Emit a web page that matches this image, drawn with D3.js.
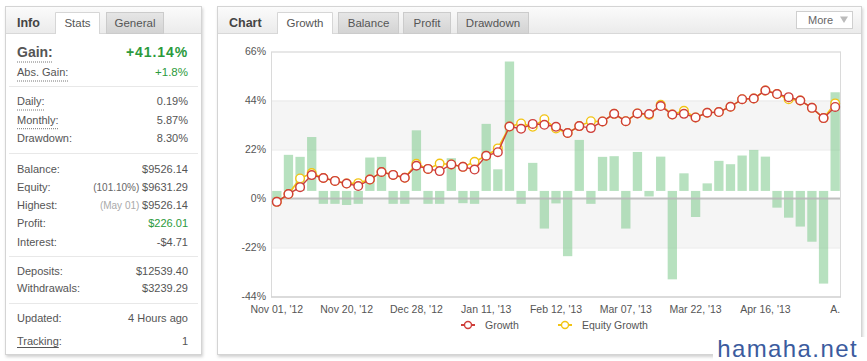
<!DOCTYPE html>
<html>
<head>
<meta charset="utf-8">
<script src="https://cdn.jsdelivr.net/npm/d3@7"></script>
<style>
  body { margin: 0; background: #fff; }
  svg { display: block; font-family: "Liberation Sans", Arial, sans-serif; }
</style>
</head>
<body>
<script>
// growth of the account per period (%), equity growth and per-period profit bars
var growth = [-1.5, 2.0, 5.1, 10.5, 9.2, 7.9, 6.7, 5.6, 8.5, 11.9, 10.6, 9.3, 14.7, 13.3, 12.3, 15.3, 14.2,
  13.0, 19.2, 20.8, 32.3, 31.3, 33.5, 33.1, 32.2, 29.4, 32.5, 31.6, 34.6, 38.0, 34.7, 38.2, 37.9,
  41.5, 37.7, 38.0, 36.4, 38.5, 38.8, 41.2, 44.6, 44.9, 48.5, 46.9, 45.5, 44.0, 40.7, 36.1, 41.1];
var equity = [-1.5, 2.0, 9.0, 11.4, 9.2, 7.9, 6.7, 6.9, 8.5, 11.9, 10.6, 9.3, 15.6, 13.3, 15.7, 15.3, 14.2,
  16.5, 19.2, 22.5, 32.3, 33.7, 32.2, 35.6, 31.4, 29.4, 32.5, 34.7, 34.6, 38.0, 34.7, 38.2, 37.5,
  42.1, 37.7, 39.4, 36.4, 38.5, 38.8, 41.2, 44.6, 44.9, 48.5, 46.9, 44.6, 44.0, 40.7, 36.1, 42.7];
var profit = [-4.5, 16.2, 15.3, 24.2, -5.8, -5.8, -6.3, -5.8, 15.0, 15.3, -5.8, -5.8, 27.2, -5.8, -5.8, 14.7, -5.5,
  -5.8, 30.1, 9.7, 58.1, -5.8, 12.6, -16.9, -5.6, -29.3, 22.9, -5.8, 15.3, 15.6, -16.9, 17.5, -2.5,
  15.4, -39.7, 7.9, -11.7, 3.4, 13.5, 12.0, 15.9, 18.4, 15.4, -7.5, -12.0, -16.0, -22.8, -41.6, 44.3];
var periods = d3.range(growth.length);
var tickLabels = ["Nov 01, '12", "Nov 20, '12", "Dec 28, '12", "Jan 11, '13", "Feb 12, '13",
  "Mar 07, '13", "Mar 22, '13", "Apr 16, '13", "A."];
var yTicks = [-44, -22, 0, 22, 44, 66];

var infoRows1 = [["Daily:", "0.19%"], ["Monthly:", "5.87%"], ["Drawdown:", "8.30%"]];
var infoRows3 = [["Deposits:", "$12539.40"], ["Withdrawals:", "$3239.29"]];

var W = 867, H = 361;
var svg = d3.select("body").append("svg").attr("width", W).attr("height", H);
var defs = svg.append("defs");

var sh = defs.append("filter").attr("id", "shadow").attr("x", "-5%").attr("y", "-5%")
  .attr("width", "115%").attr("height", "115%");
sh.append("feDropShadow").attr("dx", 1).attr("dy", 2).attr("stdDeviation", 1.5)
  .attr("flood-color", "#000").attr("flood-opacity", 0.18);

function grad(id, a, b) {
  var lg = defs.append("linearGradient").attr("id", id).attr("x1", 0).attr("y1", 0).attr("x2", 0).attr("y2", 1);
  lg.append("stop").attr("offset", "0%").attr("stop-color", a);
  lg.append("stop").attr("offset", "100%").attr("stop-color", b);
}
grad("hdr", "#fbfbfb", "#ebebeb");
grad("tab", "#e6e6e6", "#d3d3d3");

// panel with header and tabs
function panel(x, y, w, h, title, tabs) {
  var p = svg.append("g");
  p.append("rect").attr("x", x + 0.5).attr("y", y + 0.5).attr("width", w).attr("height", h)
    .attr("fill", "#fff").attr("stroke", "#d4d4d4").attr("filter", "url(#shadow)");
  p.append("rect").attr("x", x + 1).attr("y", y + 1).attr("width", w - 1).attr("height", 26)
    .attr("fill", "url(#hdr)");
  p.append("line").attr("x1", x + 1).attr("x2", x + w).attr("y1", y + 27.5).attr("y2", y + 27.5)
    .attr("stroke", "#d8d8d8");
  p.append("text").attr("x", x + 12).attr("y", y + 21).attr("font-size", "12.5px")
    .attr("font-weight", "bold").attr("fill", "#444").text(title);
  tabs.forEach(function(t) {
    if (t.active) {
      p.append("path").attr("d", "M" + (t.x0 + 0.5) + "," + (y + 28) + "V" + (y + 6.5) + "H" + (t.x1 - 0.5) + "V" + (y + 28))
        .attr("fill", "#fff").attr("stroke", "#d6d6d6");
      p.append("rect").attr("x", t.x0 + 1).attr("y", y + 27).attr("width", t.x1 - t.x0 - 2).attr("height", 2).attr("fill", "#fff");
    } else {
      p.append("rect").attr("x", t.x0 + 0.5).attr("y", y + 6.5).attr("width", t.x1 - t.x0 - 1).attr("height", 21)
        .attr("fill", "url(#tab)").attr("stroke", "#cbcbcb");
    }
    p.append("text").attr("x", (t.x0 + t.x1) / 2).attr("y", y + 21).attr("text-anchor", "middle")
      .attr("font-size", "11.5px").attr("fill", "#555").text(t.name);
  });
  return p;
}

panel(5, 6, 196, 348, "Info", [
  {name: "Stats", x0: 55, x1: 100, active: true},
  {name: "General", x0: 106, x1: 164}
]);
panel(217, 6, 644, 348, "Chart", [
  {name: "Growth", x0: 277, x1: 333, active: true},
  {name: "Balance", x0: 338, x1: 399},
  {name: "Profit", x0: 403, x1: 451},
  {name: "Drawdown", x0: 457, x1: 529}
]);

// More button
svg.append("rect").attr("x", 796.5).attr("y", 11.5).attr("width", 56).attr("height", 17)
  .attr("fill", "#fff").attr("stroke", "#cfcfcf");
svg.append("text").attr("x", 808).attr("y", 24).attr("font-size", "11px").attr("fill", "#666").text("More");
svg.append("path").attr("d", "M840,16.5H848L844,23Z").attr("fill", "#bbb");

// ---- info panel rows
var info = svg.append("g");
var lx = 17, rx = 188;
var green = "#2c9a3c";

function underline(t, y, dash) {
  var w = t.node().getComputedTextLength();
  info.append("line").attr("x1", lx).attr("x2", lx + w).attr("y1", y + 0.5).attr("y2", y + 0.5)
    .attr("stroke", dash ? "#777" : "#555").attr("stroke-dasharray", dash ? "1,1" : null);
}

var tg = info.append("text").attr("x", lx).attr("y", 57).attr("font-size", "14px").attr("font-weight", "bold")
  .attr("fill", "#555").text("Gain:");
underline(tg, 61.5, true);
info.append("text").attr("x", rx).attr("y", 57).attr("text-anchor", "end").attr("font-size", "14px")
  .attr("font-weight", "bold").attr("letter-spacing", "0.9px").attr("fill", green).text("+41.14%");
var ta = info.append("text").attr("x", lx).attr("y", 76).attr("font-size", "11px").attr("fill", "#555").text("Abs. Gain:");
underline(ta, 80.5, true);
info.append("text").attr("x", rx).attr("y", 76).attr("text-anchor", "end").attr("font-size", "11.5px")
  .attr("fill", green).text("+1.8%");

[86, 153, 256, 303].forEach(function(y) {
  info.append("line").attr("x1", 9).attr("x2", 198).attr("y1", y + 0.5).attr("y2", y + 0.5).attr("stroke", "#e8e8e8");
});

infoRows1.forEach(function(r, i) {
  var y = 105 + i * 18.7;
  var t = info.append("text").attr("x", lx).attr("y", y).attr("font-size", "11px").attr("fill", "#555").text(r[0]);
  if (i < 2) underline(t, y + 4.5, true);
  info.append("text").attr("x", rx).attr("y", y).attr("text-anchor", "end").attr("font-size", "11px")
    .attr("fill", "#555").text(r[1]);
});

function row(label, y) {
  return info.append("text").attr("x", lx).attr("y", y).attr("font-size", "11px").attr("fill", "#555").text(label);
}
function val(y) {
  return info.append("text").attr("x", rx).attr("y", y).attr("text-anchor", "end").attr("font-size", "11px").attr("fill", "#555");
}
row("Balance:", 172.5); val(172.5).text("$9526.14");
row("Equity:", 190.5);
var ve = val(190.5);
ve.append("tspan").attr("font-size", "10px").attr("fill", "#666").text("(101.10%) ");
ve.append("tspan").text("$9631.29");
row("Highest:", 208.5);
var vh = val(208.5);
vh.append("tspan").attr("font-size", "10px").attr("fill", "#aaa").text("(May 01) ");
vh.append("tspan").text("$9526.14");
row("Profit:", 227); val(227).attr("fill", green).text("$226.01");
row("Interest:", 245.5); val(245.5).text("-$4.71");
infoRows3.forEach(function(r, i) {
  row(r[0], 274.5 + i * 17.8); val(274.5 + i * 17.8).text(r[1]);
});
row("Updated:", 322.3); val(322.3).text("4 Hours ago");
var tt = info.append("text").attr("x", lx).attr("y", 345).attr("font-size", "11px").attr("fill", "#555");
tt.append("tspan").attr("class", "u").text("Tracking");
tt.append("tspan").text(":");
var uw = tt.select(".u").node().getComputedTextLength();
info.append("line").attr("x1", lx).attr("x2", lx + uw).attr("y1", 347.5).attr("y2", 347.5).attr("stroke", "#555");
val(345).text("1");

// ---- chart
var margin = {left: 271, top: 51.5};
var width = 570, height = 245;
var g = svg.append("g").attr("transform", "translate(" + margin.left + "," + margin.top + ")");

var x = d3.scaleBand().domain(periods).range([0, width]).paddingInner(0.2).paddingOuter(0.1);
var y = d3.scaleLinear().domain([-44, 66]).range([height, 0]);
// profit bars use their own axis, its zero sits a little above the 0% line
var yBar = d3.scaleLinear().domain([-47.4, 62.6]).range([height, 0]);
var cx = function(i) { return x(i) + x.bandwidth() / 2; };

// alternating bands
[[22, 44], [-22, 0]].forEach(function(b) {
  g.append("rect").attr("x", 0).attr("width", width).attr("y", y(b[1])).attr("height", y(b[0]) - y(b[1]))
    .attr("fill", "#f5f5f5");
});
g.selectAll(".grid").data(yTicks).enter().append("line")
  .attr("x1", 0).attr("x2", width).attr("y1", function(d) { return Math.round(y(d)) + 0.5; })
  .attr("y2", function(d) { return Math.round(y(d)) + 0.5; }).attr("stroke", "#e9e9e9");

g.selectAll(".bar").data(profit).enter().append("rect")
  .attr("x", function(d, i) { return x(i); })
  .attr("width", x.bandwidth())
  .attr("y", function(d) { return yBar(Math.max(0, d)); })
  .attr("height", function(d) { return Math.abs(yBar(d) - yBar(0)); })
  .attr("fill", "#7cc98a").attr("fill-opacity", 0.55);

g.append("line").attr("x1", 0).attr("x2", width).attr("y1", y(0)).attr("y2", y(0))
  .attr("stroke", "#b8b8b8").attr("stroke-width", 2).attr("stroke-opacity", 0.85);

g.append("rect").attr("x", 0.5).attr("y", 0.5).attr("width", width - 1).attr("height", height)
  .attr("fill", "none").attr("stroke", "#dadada");
g.append("line").attr("x1", 0).attr("x2", width).attr("y1", height + 0.5).attr("y2", height + 0.5)
  .attr("stroke", "#cfcfcf");

var line = d3.line().x(function(d, i) { return cx(i); }).y(function(d) { return y(d); });
var yellow = "#f2c414", red = "#cf3e3a";

g.append("path").datum(equity).attr("d", line).attr("fill", "none").attr("stroke", yellow).attr("stroke-width", 1.6);
g.selectAll(".eq").data(equity).enter().append("circle")
  .attr("cx", function(d, i) { return cx(i); }).attr("cy", function(d) { return y(d); })
  .attr("r", 4.3).attr("fill", "#fff").attr("stroke", yellow).attr("stroke-width", 1.4);

g.append("path").datum(growth).attr("d", line).attr("fill", "none").attr("stroke", red).attr("stroke-width", 1.4);
g.selectAll(".gr").data(growth).enter().append("circle")
  .attr("cx", function(d, i) { return cx(i); }).attr("cy", function(d) { return y(d); })
  .attr("r", 4.3).attr("fill", "#fff").attr("stroke", red).attr("stroke-width", 1.4);

// axes
var yAxis = d3.axisLeft(y).tickValues(yTicks).tickSize(0).tickPadding(5)
  .tickFormat(function(d) { return d + "%"; });
var ya = g.append("g").call(yAxis);
ya.select(".domain").remove();
ya.selectAll("text").attr("font-family", "Liberation Sans, Arial, sans-serif").attr("font-size", "10.5px").attr("fill", "#555");

var tickIdx = periods.filter(function(i) { return i % 6 === 0; });
var xAxis = d3.axisBottom(x).tickValues(tickIdx).tickSize(0).tickPadding(9)
  .tickFormat(function(d, i) { return tickLabels[i]; });
var xa = g.append("g").attr("transform", "translate(0," + height + ")").call(xAxis);
xa.select(".domain").remove();
xa.selectAll("text").attr("font-family", "Liberation Sans, Arial, sans-serif").attr("font-size", "10.5px").attr("fill", "#555");

// legend
var legend = [{name: "Growth", color: red, x: 468}, {name: "Equity Growth", color: yellow, x: 565}];
legend.forEach(function(l) {
  svg.append("line").attr("x1", l.x - 7).attr("x2", l.x + 7).attr("y1", 325).attr("y2", 325)
    .attr("stroke", l.color).attr("stroke-width", 2);
  svg.append("circle").attr("cx", l.x).attr("cy", 325).attr("r", 3.5).attr("fill", "#fff")
    .attr("stroke", l.color).attr("stroke-width", 1.4);
  svg.append("text").attr("x", l.x + 17).attr("y", 329).attr("font-size", "10.5px").attr("fill", "#555").text(l.name);
});

// watermark
svg.append("rect").attr("x", 713).attr("y", 337).attr("width", 154).attr("height", 24).attr("fill", "#fff");
svg.append("text").attr("x", 858).attr("y", 357).attr("text-anchor", "end")
  .attr("font-family", "Liberation Sans, Arial, sans-serif").attr("font-size", "24px")
  .attr("letter-spacing", "1.4px").attr("fill", "#3b5b9e").text("hamaha.net");
</script>
</body>
</html>
